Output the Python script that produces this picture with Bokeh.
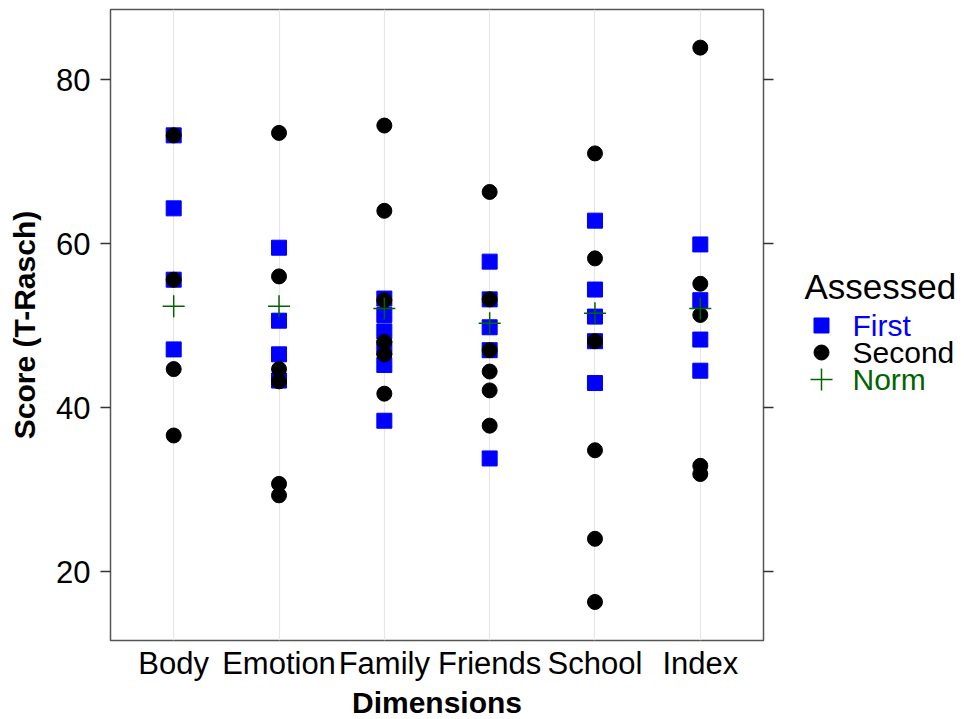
from bokeh.plotting import figure
from bokeh.models import Range1d, FixedTicker, LinearAxis, ColumnDataSource, CustomLabelingPolicy
from bokeh.layouts import row
from bokeh.embed import file_html
from bokeh.resources import INLINE
from bokeh.core.properties import value

categories = ["Body", "Emotion", "Family", "Friends", "School", "Index"]
first_scores = [
    [73.2, 64.3, 55.6, 47.1],
    [59.5, 50.6, 46.5, 43.3],
    [53.3, 51.3, 49.3, 47.3, 45.2, 38.4],
    [57.8, 53.2, 49.8, 47.0, 33.8],
    [62.8, 54.4, 51.1, 48.1, 43.0],
    [59.9, 53.1, 48.3, 44.5],
]
second_scores = [
    [73.2, 55.6, 44.7, 36.6],
    [73.5, 56.0, 44.7, 43.2, 30.7, 29.3],
    [74.4, 64.0, 53.1, 48.0, 46.5, 41.7],
    [66.3, 53.2, 47.0, 44.4, 42.1, 37.8],
    [71.0, 58.2, 48.1, 34.8, 24.0, 16.3],
    [83.9, 55.1, 51.3, 32.9, 31.9],
]
norm_scores = [52.35, 52.35, 52.1, 50.3, 51.5, 52.1]
y_ticks = [20, 40, 60, 80]
legend_labels = ["First", "Second", "Norm"]
legend_title = "Assessed"

FONT = "Liberation Sans"
BLUE = "#0000ff"
GREEN = "#006400"


def flatten(groups):
    xs, ys = [], []
    for i, g in enumerate(groups):
        for v in g:
            xs.append(i + 1)
            ys.append(v)
    return dict(x=xs, y=ys)


xpos = list(range(1, len(categories) + 1))

FT, FB, FL, FR = 9, 640, 110, 763
MAIN_W = 788

p = figure(
    width=MAIN_W, height=719,
    frame_width=FR - FL, frame_height=FB - FT,
    x_range=Range1d(0.4, 6.6), y_range=Range1d(11.6, 88.55),
    output_backend="svg", toolbar_location=None,
    min_border_left=FL, min_border_top=FT, min_border_bottom=719 - FB,
    min_border_right=MAIN_W - FR,
)
p.background_fill_color = "white"
p.border_fill_color = "white"
p.outline_line_color = "#555555"
p.outline_line_width = 1.5

p.ygrid.grid_line_color = None
p.xgrid.ticker = FixedTicker(ticks=xpos)
p.xgrid.grid_line_color = "#e6e6e6"
p.xgrid.grid_line_width = 1.2

xa = p.xaxis[0]
xa.ticker = FixedTicker(ticks=xpos)
xa.major_label_overrides = {i + 1: c for i, c in enumerate(categories)}
xa.major_tick_out = 0
xa.major_tick_in = 0
xa.minor_tick_line_color = None
xa.axis_line_color = None
xa.major_label_text_font = FONT
xa.major_label_text_font_size = "31px"
xa.major_label_text_color = "black"
xa.major_label_standoff = 5
xa.axis_label = "Dimensions"
xa.axis_label_text_font = FONT
xa.axis_label_text_font_size = "30px"
xa.axis_label_text_font_style = "bold"
xa.axis_label_text_color = "black"
xa.axis_label_standoff = 2

ya = p.yaxis[0]
ya.ticker = FixedTicker(ticks=y_ticks)
ya.major_tick_out = 10
ya.major_tick_in = 0
ya.major_tick_line_color = "#333333"
ya.major_tick_line_width = 1.3
ya.minor_tick_line_color = None
ya.axis_line_color = None
ya.major_label_text_font = FONT
ya.major_label_text_font_size = "31px"
ya.major_label_text_color = "black"
ya.major_label_standoff = 10
ya.axis_label = "Score (T-Rasch)"
ya.axis_label_text_font = FONT
ya.axis_label_text_font_size = "30px"
ya.axis_label_text_font_style = "bold"
ya.axis_label_text_color = "black"
ya.axis_label_standoff = 12

ra = LinearAxis(ticker=FixedTicker(ticks=y_ticks))
ra.major_tick_out = 10
ra.major_tick_in = 0
ra.major_tick_line_color = "#333333"
ra.major_tick_line_width = 1.3
ra.minor_tick_line_color = None
ra.axis_line_color = None
ra.major_label_policy = CustomLabelingPolicy(code="return new Set()")
ra.major_label_standoff = 0
p.add_layout(ra, "right")

src_first = ColumnDataSource(flatten(first_scores))
src_second = ColumnDataSource(flatten(second_scores))
src_norm = ColumnDataSource(dict(x=xpos, y=norm_scores))

p.scatter("x", "y", source=src_first, marker="square", size=15,
          fill_color=BLUE, line_color=BLUE)
p.scatter("x", "y", source=src_second, marker="circle", size=15,
          fill_color="black", line_color="black")
p.scatter("x", "y", source=src_norm, marker="cross", size=22,
          line_color=GREEN, line_width=1.5)

# legend panel: frame aligned with the main frame, coordinates in page pixels
LEG_W = 964 - MAIN_W
leg = figure(width=LEG_W, height=719, frame_width=LEG_W, frame_height=FB - FT,
             x_range=Range1d(MAIN_W, 964), y_range=Range1d(FB, FT),
             output_backend="svg", toolbar_location=None,
             min_border_left=0, min_border_right=0,
             min_border_top=FT, min_border_bottom=719 - FB)
leg.axis.visible = False
leg.grid.visible = False
leg.outline_line_color = None
leg.background_fill_color = "white"
leg.border_fill_color = "white"

leg.text(x=[804], y=[286], text=[legend_title], text_font=value(FONT),
         text_font_size="35px", text_color="black", text_baseline="middle")
leg.scatter(x=[821], y=[325], marker="square", size=15, fill_color=BLUE, line_color=BLUE)
leg.scatter(x=[821], y=[352], marker="circle", size=15, fill_color="black", line_color="black")
leg.scatter(x=[821], y=[379], marker="cross", size=22, line_color=GREEN, line_width=1.5)
leg.text(x=[852, 852, 852], y=[325, 352, 379], text=legend_labels,
         text_color=[BLUE, "black", GREEN], text_font=value(FONT),
         text_font_size="30px", text_baseline="middle")

layout = row(p, leg)
open("out.html", "w").write(file_html(layout, INLINE))
